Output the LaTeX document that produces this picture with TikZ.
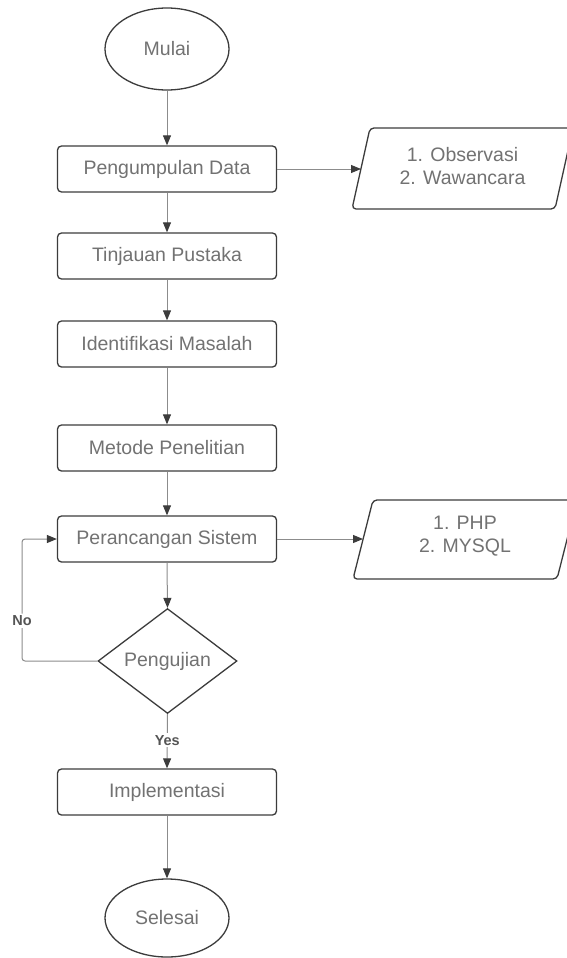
\documentclass[tikz,border=0pt]{standalone}
\usepackage{fontspec}
\setmainfont{Liberation Sans}
\usetikzlibrary{shapes.geometric,arrows.meta}
\definecolor{txt}{HTML}{727272}
\definecolor{edge}{HTML}{3C3C3C}
\definecolor{ln}{HTML}{8C8C8C}
\definecolor{lbl}{HTML}{555555}
\begin{document}
\begin{tikzpicture}[x=1pt,y=-1pt,
  base/.style={draw=edge, line width=1.3pt, text=txt, inner sep=0pt, font=\fontsize{19.5}{23}\selectfont},
  box/.style={base, rounded corners=4pt, minimum width=219pt, minimum height=46pt},
  term/.style={base, ellipse, minimum width=124pt, minimum height=82pt},
  dec/.style={base, diamond, minimum width=139pt, minimum height=104pt},
  para/.style={draw=edge, line width=1.3pt, rounded corners=4pt},
  ptext/.style={text=txt, align=center, font=\fontsize{19.5}{23}\selectfont},
  arr/.style={draw=ln, line width=1pt, -{Triangle[length=10pt,width=8pt,color=edge]}},
  lab/.style={fill=white, text=lbl, inner sep=2pt, font=\bfseries\fontsize{14.5}{16}\selectfont}
]
\useasboundingbox (0,0) rectangle (566,958);
\fill[white] (0,0) rectangle (566,958);

\node[term] (mulai) at (167,49) {Mulai};
\node[box] (pd) at (167,169) {Pengumpulan Data};
\node[box] (tp) at (167,256) {Tinjauan Pustaka};
\node[box] (im) at (167,344) {Identifikasi Masalah};
\node[box] (mp) at (167,448) {Metode Penelitian};
\node[box] (ps) at (167,539) {Perancangan Sistem};
\node[dec] (uji) at (167.5,661) {Pengujian};
\node[box] (impl) at (167,792) {Implementasi};
\node[term, minimum height=78pt] (sel) at (167,918) {Selesai};

% parallelograms
\draw[para] (352,209) -- (370,128) -- (573,128) -- (555,209) -- cycle;
\node[ptext] (p1) at (462.5,166) {1. Observasi\\2. Wawancara};
\coordinate (in1) at (361,169);
\draw[para] (353,579) -- (373,500) -- (577,500) -- (557,579) -- cycle;
\node[ptext] (p2) at (465,536.5) {1. PHP\\2. MYSQL};
\coordinate (in2) at (363,539);

% connectors
\draw[arr] (mulai.south) -- (pd.north);
\draw[arr] (pd.south) -- (tp.north);
\draw[arr] (tp.south) -- (im.north);
\draw[arr] (im.south) -- (mp.north);
\draw[arr] (mp.south) -- (ps.north);
\draw[arr] (ps.south) -- (uji.north);
\draw[arr] (uji.south) -- node[lab, pos=0.48] {Yes} (impl.north);
\draw[arr] (impl.south) -- (sel.north);
\draw[arr] (pd.east) -- (in1);
\draw[arr] (ps.east) -- (in2);
\coordinate (nc) at (22,661);
\draw[arr, rounded corners=3pt] (uji.west) -- (nc) |- node[lab, pos=0.165] {No} (ps.west);
\end{tikzpicture}
\end{document}
